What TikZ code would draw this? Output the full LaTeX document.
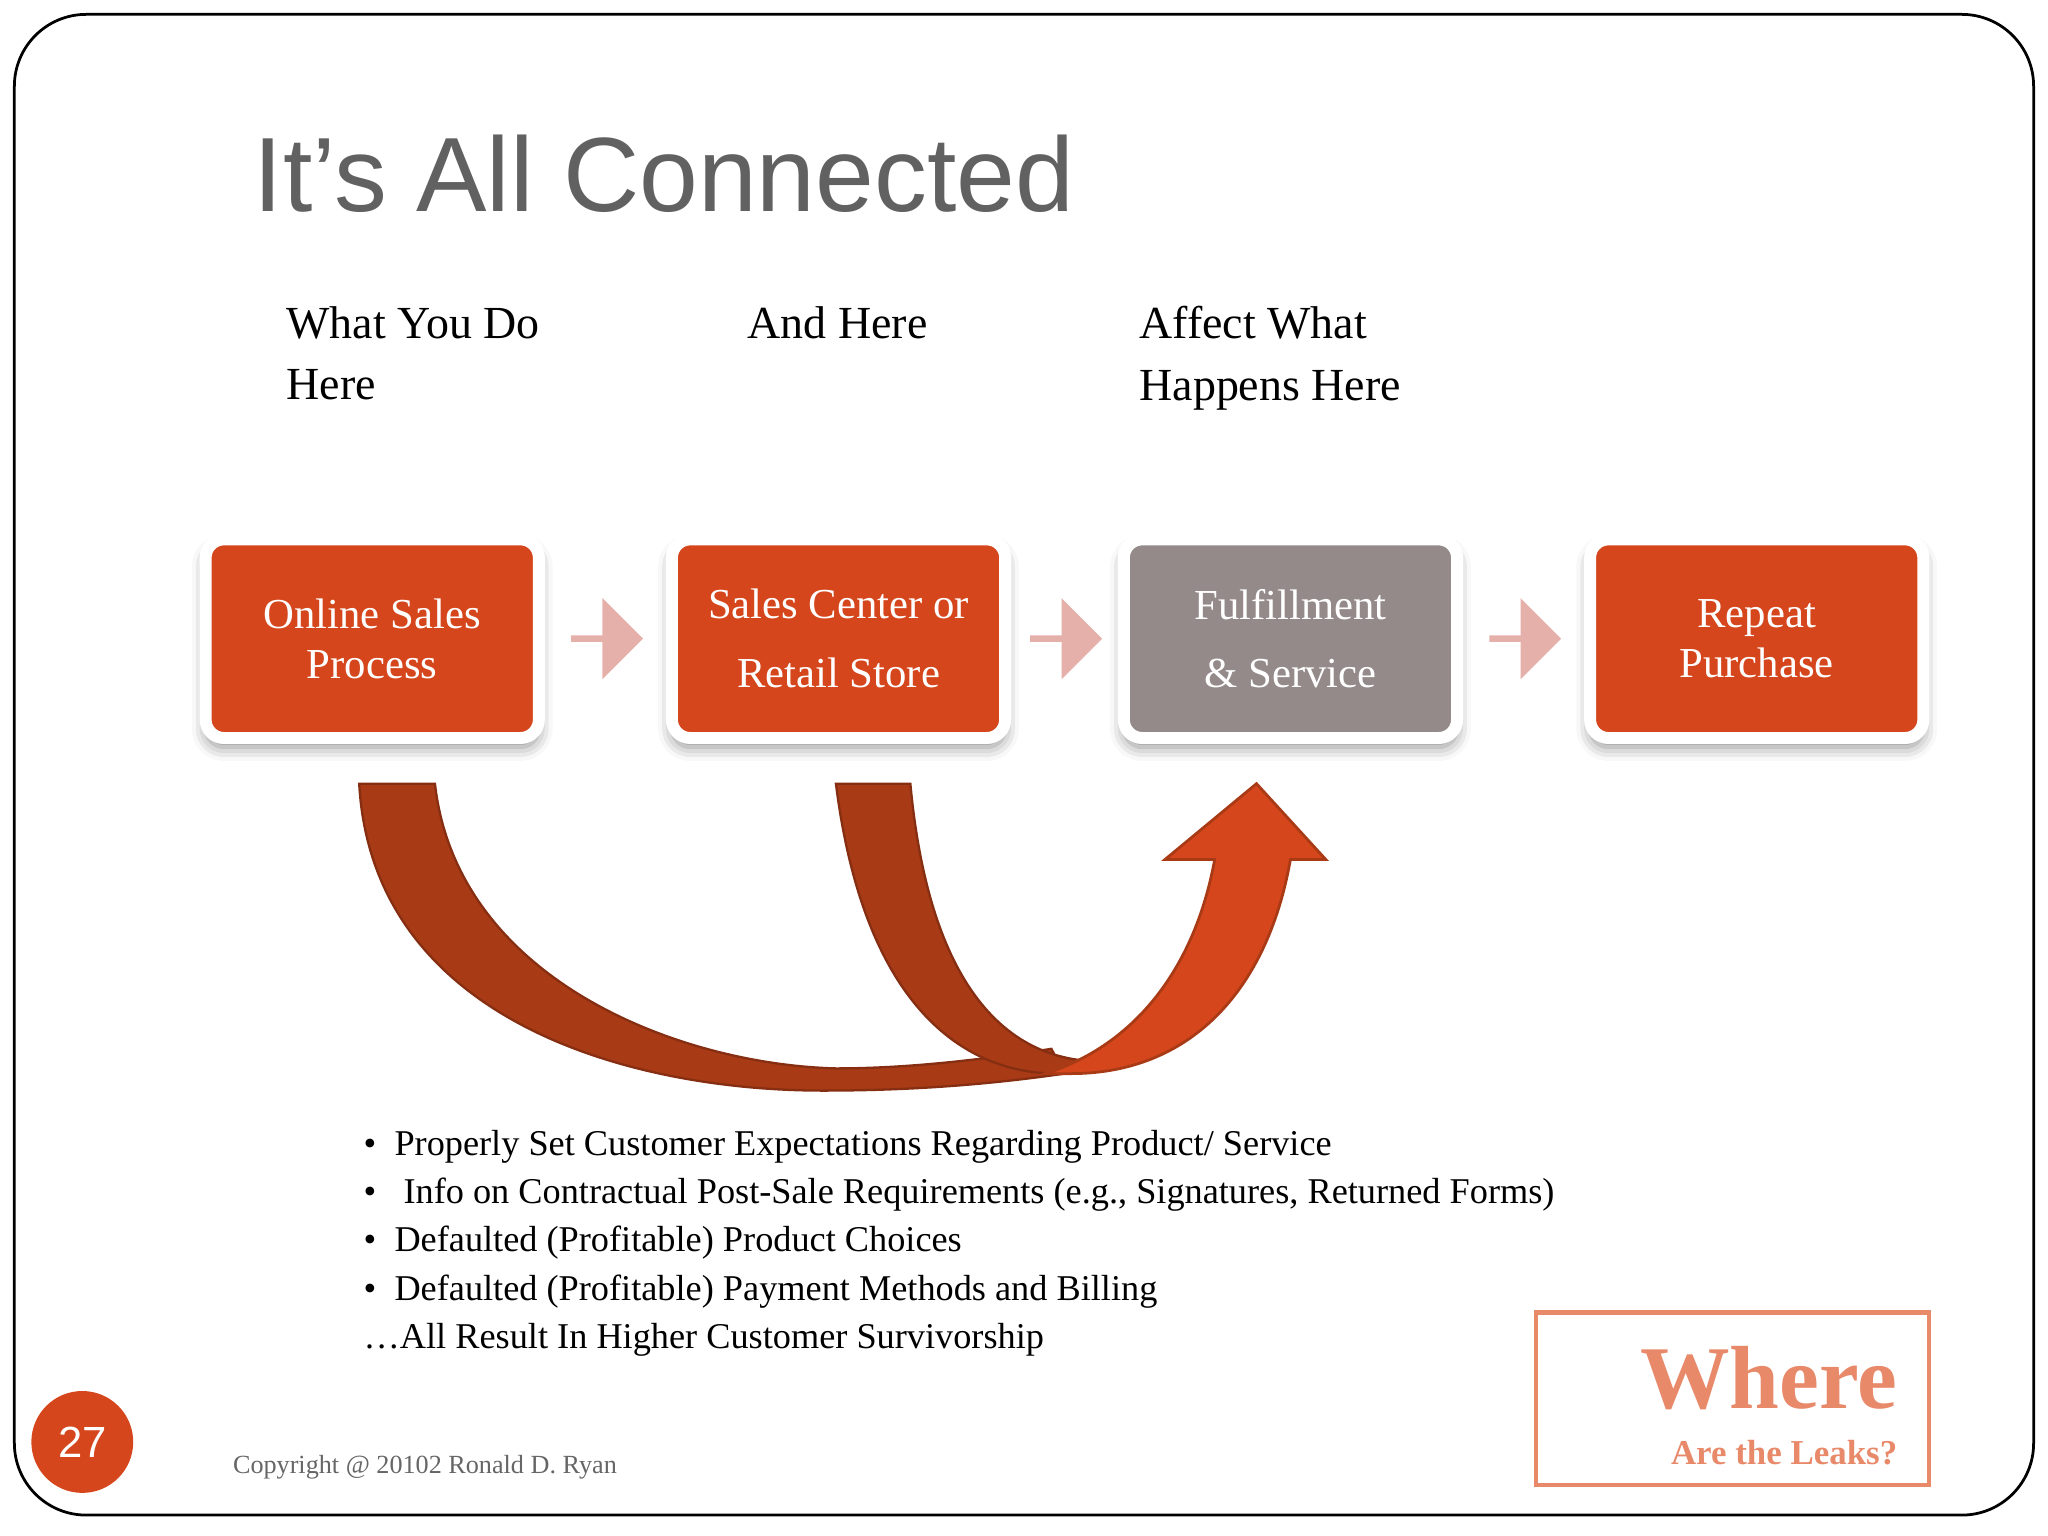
\documentclass[tikz,border=0pt]{standalone}
\usepackage{fontspec}
\setmainfont{Liberation Serif}
\newfontfamily\titlefont{Liberation Sans}
\usetikzlibrary{shapes.arrows,shadows.blur,calc}
\definecolor{org}{HTML}{D5461C}
\definecolor{dark}{HTML}{A83A16}
\definecolor{gry}{HTML}{948A8A}
\definecolor{pink}{HTML}{E6B0AA}
\definecolor{salmon}{HTML}{E8896A}
\tikzset{
 stepbox/.style={draw=white,line width=2.6pt,fill=org,minimum width=2.55cm,minimum height=1.52cm,rounded corners=4pt,text=white,font=\fontsize{9.3}{11}\selectfont,align=center,blur shadow={shadow xshift=0pt,shadow yshift=-2pt,shadow blur radius=3pt,shadow opacity=45}},
 parr/.style={single arrow,fill=pink,minimum width=0.62cm,minimum height=0.55cm,single arrow head extend=0.08cm,inner sep=0pt},
 lab/.style={anchor=north west,align=left,font=\fontsize{10}{13.4}\selectfont},
}
\begin{document}
\begin{tikzpicture}[x=0.01cm,y=-0.01cm]
\useasboundingbox (0,0) rectangle (1568,1176);
\draw[black,line width=0.6pt,rounded corners=0.55cm] (11,11) rectangle (1557,1160);
\node[anchor=west,font=\titlefont\fontsize{23}{28}\selectfont,text=black!62] (title) at (182,133) {It’s All Connected};
\node[lab] (l1) at (207,222) {What You Do\\Here};
\node[lab] (l2) at (560,222) {And Here};
\node[lab] (l3) at (860,222) {Affect What\\Happens Here};
\node[stepbox] (b1) at (285,489) {Online Sales\\Process};
\node[stepbox,font=\fontsize{9.3}{15}\selectfont] (b2) at (642,489) {Sales Center or\\Retail Store};
\node[stepbox,fill=gry,font=\fontsize{9.3}{15}\selectfont] (b3) at (988,489) {Fulfillment\\\& Service};
\node[stepbox] (b4) at (1345,489) {Repeat\\Purchase};
\node[parr] (a1) at ($(b1.east)!0.5!(b2.west)$) {};
\node[parr] (a2) at ($(b2.east)!0.5!(b3.west)$) {};
\node[parr] (a3) at ($(b3.east)!0.5!(b4.west)$) {};
% curved bands
\fill[dark,draw=dark!80!black,line width=0.5pt] (275,600) -- (333,600) .. controls (350,750) and (520,815) .. (640,818) .. controls (700,818) and (760,810) .. (805,803) -- (815,822) .. controls (760,830) and (700,835) .. (630,835) .. controls (480,835) and (285,780) .. (275,600) -- cycle;
\fill[dark,draw=dark!80!black,line width=0.5pt] (640,600) -- (697,600) .. controls (710,740) and (760,805) .. (830,812) -- (810,822) .. controls (730,822) and (660,760) .. (640,600) -- cycle;
\fill[org,draw=dark,line width=0.6pt] (962,600) -- (1015,658) -- (988,658) .. controls (970,760) and (910,822) .. (820,822) -- (800,822) .. controls (870,800) and (915,740) .. (930,658) -- (892,658) -- cycle;
\node[anchor=north west,align=left,font=\fontsize{7.9}{10.5}\selectfont] (bul) at (266,853) {%
\textbullet\ \ Properly Set Customer Expectations Regarding Product/ Service\\
\textbullet\ \ \ Info on Contractual Post-Sale Requirements (e.g., Signatures, Returned Forms)\\
\textbullet\ \ Defaulted (Profitable) Product Choices\\
\textbullet\ \ Defaulted (Profitable) Payment Methods and Billing\\
\dots All Result In Higher Customer Survivorship};
\draw[salmon,line width=1pt] (1176,1005) rectangle (1477,1137);
\node[anchor=east,text=salmon,font=\bfseries\fontsize{19.5}{22}\selectfont] (w) at (1465,1055) {Where};
\node[anchor=east,text=salmon,font=\bfseries\fontsize{7.6}{9}\selectfont] (w2) at (1465,1112) {Are the Leaks?};
\fill[org] (63,1104) circle (39);
\node[text=white,font=\titlefont\fontsize{9.5}{11}\selectfont] (pg) at (63,1104) {27};
\node[anchor=west,text=black!60,font=\fontsize{5.7}{7}\selectfont] (cp) at (166,1123) {Copyright @ 20102 Ronald D. Ryan};
\end{tikzpicture}
\end{document}
